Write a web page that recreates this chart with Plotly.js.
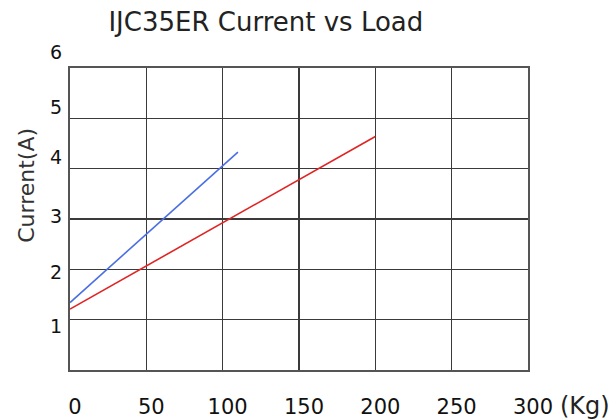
<!DOCTYPE html>
<html>
<head>
<meta charset="utf-8">
<script src="https://cdn.plot.ly/plotly-3.0.1.min.js"></script>
<style>html,body{margin:0;padding:0;background:#fff;}#chart{width:614px;height:420px;}</style>
</head>
<body>
<div id="chart"></div>
<script>
// Data
const blueLoad = [0, 110];
const blueCurrent = [1.34, 4.33];
const redLoad = [0, 200];
const redCurrent = [1.21, 4.64];

// Axis ticks
const xTickVals = [0, 50, 100, 150, 200, 250, 300];
const xTickText = ["0", "50", "100", "150", "200", "250", "300"];
const yGridVals = [0, 1, 2, 3, 4, 5, 6];
const yRange = [0, 6];
// Y tick labels (drawn slightly offset from their grid lines, as in the reference)
const yLabelText = ["6", "5", "4", "3", "2", "1"];
const yLabelAt = [6.31, 5.23, 4.24, 3.06, 1.94, 0.88];

const FONT = "DejaVu Sans, Verdana, sans-serif";

const traces = [
  {x: blueLoad, y: blueCurrent, type: "scatter", mode: "lines",
   line: {color: "#4a6fe3", width: 1.6}, showlegend: false, hoverinfo: "none"},
  {x: redLoad, y: redCurrent, type: "scatter", mode: "lines",
   line: {color: "#e02424", width: 1.6}, showlegend: false, hoverinfo: "none"}
];

const annotations = yLabelText.map((t, i) => ({
  text: t, xref: "paper", yref: "paper", x: 0,
  y: (yLabelAt[i] - yRange[0]) / (yRange[1] - yRange[0]),
  xanchor: "right", yanchor: "middle", xshift: -6, showarrow: false,
  font: {family: FONT, size: 19, color: "#111"}
}));
annotations.push({
  text: "(Kg)", xref: "x", yref: "paper", x: 300, y: 0,
  xanchor: "left", yanchor: "middle", xshift: 30, yshift: -36, showarrow: false,
  font: {family: FONT, size: 24, color: "#222"}
});
annotations.push({
  text: "Current(A)", xref: "paper", yref: "paper", x: -0.094, y: 0.613,
  xanchor: "center", yanchor: "middle", textangle: -90, showarrow: false,
  font: {family: FONT, size: 22, color: "#333"}
});

const layout = {
  width: 614, height: 420,
  margin: {l: 70, r: 86, t: 68, b: 50, pad: 0},
  paper_bgcolor: "#fff", plot_bgcolor: "#fff",
  title: {text: "IJC35ER Current vs Load", x: 0.433, xref: "container", xanchor: "center",
          y: 0.948, yref: "container", yanchor: "middle",
          font: {family: FONT, size: 26, color: "#222"}},
  xaxis: {range: [0, 300], tickvals: xTickVals, ticktext: xTickText, ticks: "",
          showgrid: true, gridcolor: "#3a3a3a", gridwidth: 1.3,
          showline: true, linecolor: "#555", linewidth: 1.6, mirror: true,
          zeroline: false, ticklabelstandoff: 17, ticklabelshift: 5,
          tickfont: {family: FONT, size: 21, color: "#111"}},
  yaxis: {range: yRange, tickvals: yGridVals, showticklabels: false, ticks: "",
          showgrid: true, gridcolor: "#3a3a3a", gridwidth: 1.3,
          showline: true, linecolor: "#555", linewidth: 1.6, mirror: true,
          zeroline: false},
  annotations: annotations
};

Plotly.newPlot("chart", traces, layout, {staticPlot: true, displayModeBar: false});
</script>
</body>
</html>
